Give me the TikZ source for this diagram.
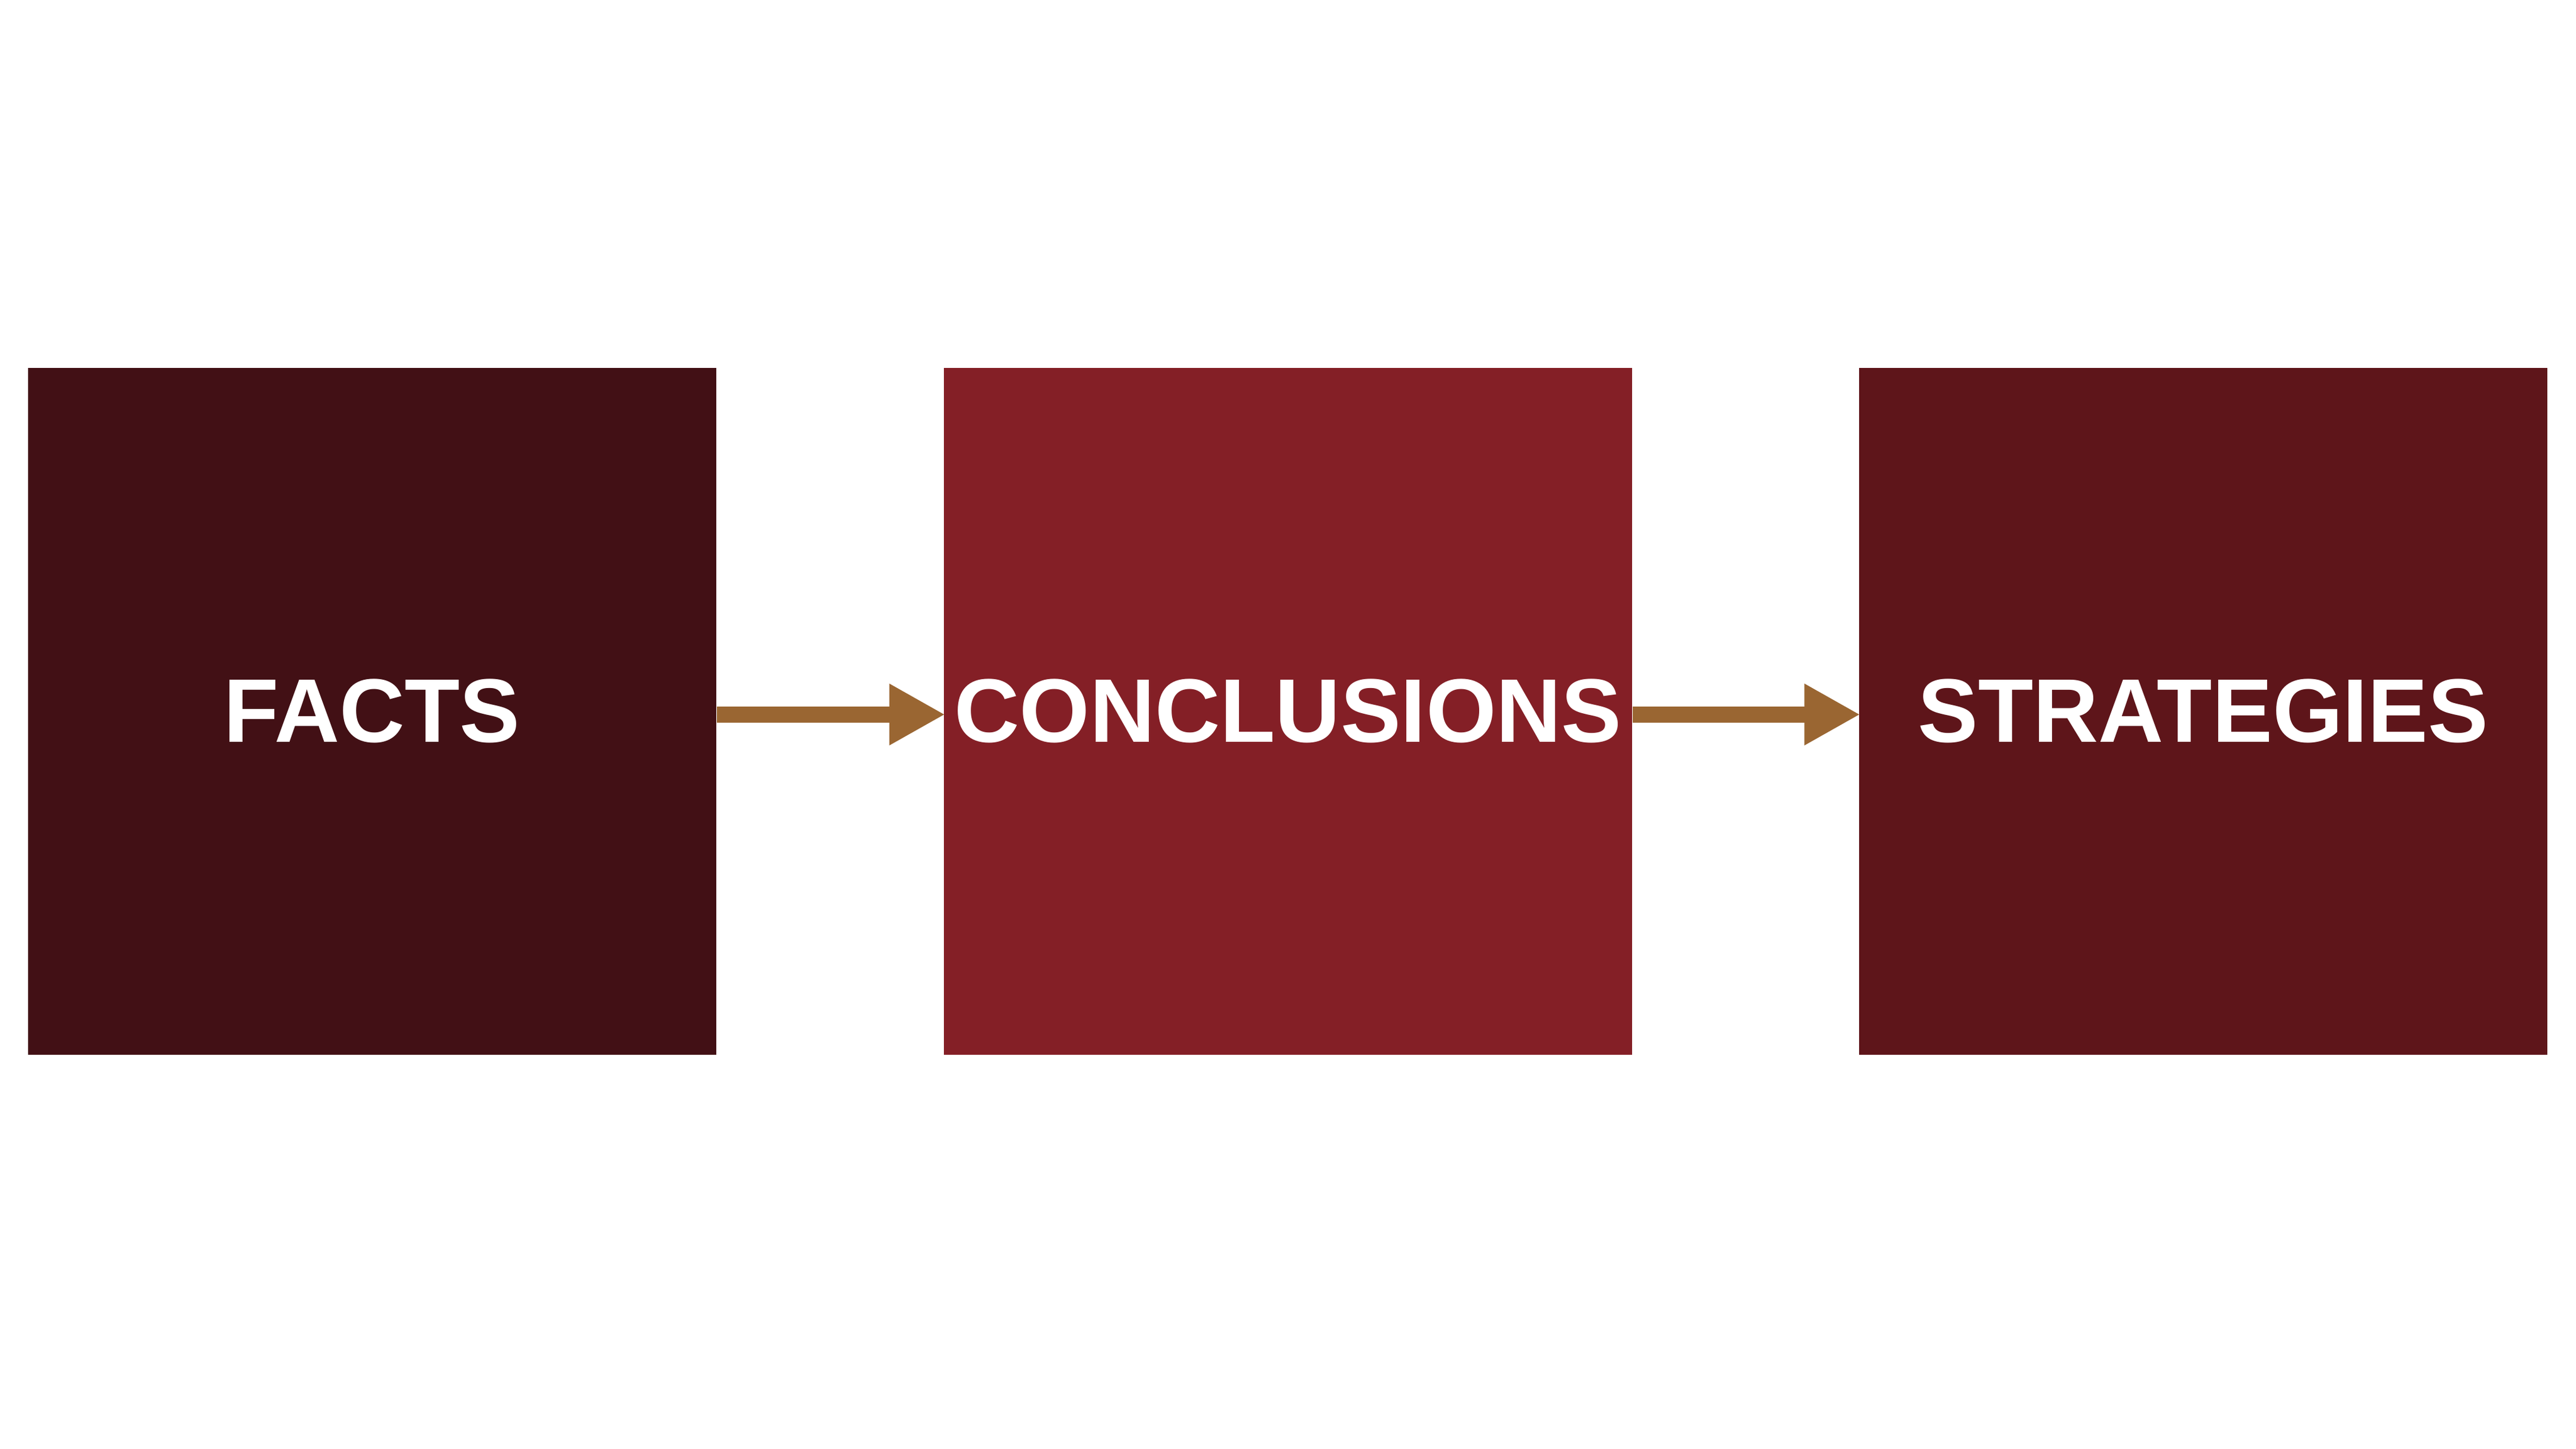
\documentclass[tikz,border=0pt]{standalone}
\usepackage{fontspec}
\setmainfont{Liberation Sans}
\usetikzlibrary{arrows.meta}
\definecolor{c1}{HTML}{421015}
\definecolor{c2}{HTML}{841F26}
\definecolor{c3}{HTML}{5E151A}
\definecolor{arr}{HTML}{9A6632}
\begin{document}
\begin{tikzpicture}[x=1pt,y=-1pt,
  boxs/.style={minimum width=419pt,minimum height=418pt,inner sep=0pt,text=white,font=\fontsize{55}{60}\selectfont\bfseries},
  conn/.style={arr,line width=10pt,-{Triangle[length=34pt,width=35pt]},shorten >=-1pt}]
\fill[white] (0,0) rectangle (1568,882);
\useasboundingbox (0,0) rectangle (1568,882);
\node[boxs,fill=c1] (f) at (226.5,433) {FACTS};
\node[boxs,fill=c2] (c) at (784,433) {CONCLUSIONS};
\node[boxs,fill=c3] (s) at (1341,433) {STRATEGIES};
\draw[conn] (f.east |- 0,435) -- (c.west |- 0,435);
\draw[conn] (c.east |- 0,435) -- (s.west |- 0,435);
\end{tikzpicture}
\end{document}
